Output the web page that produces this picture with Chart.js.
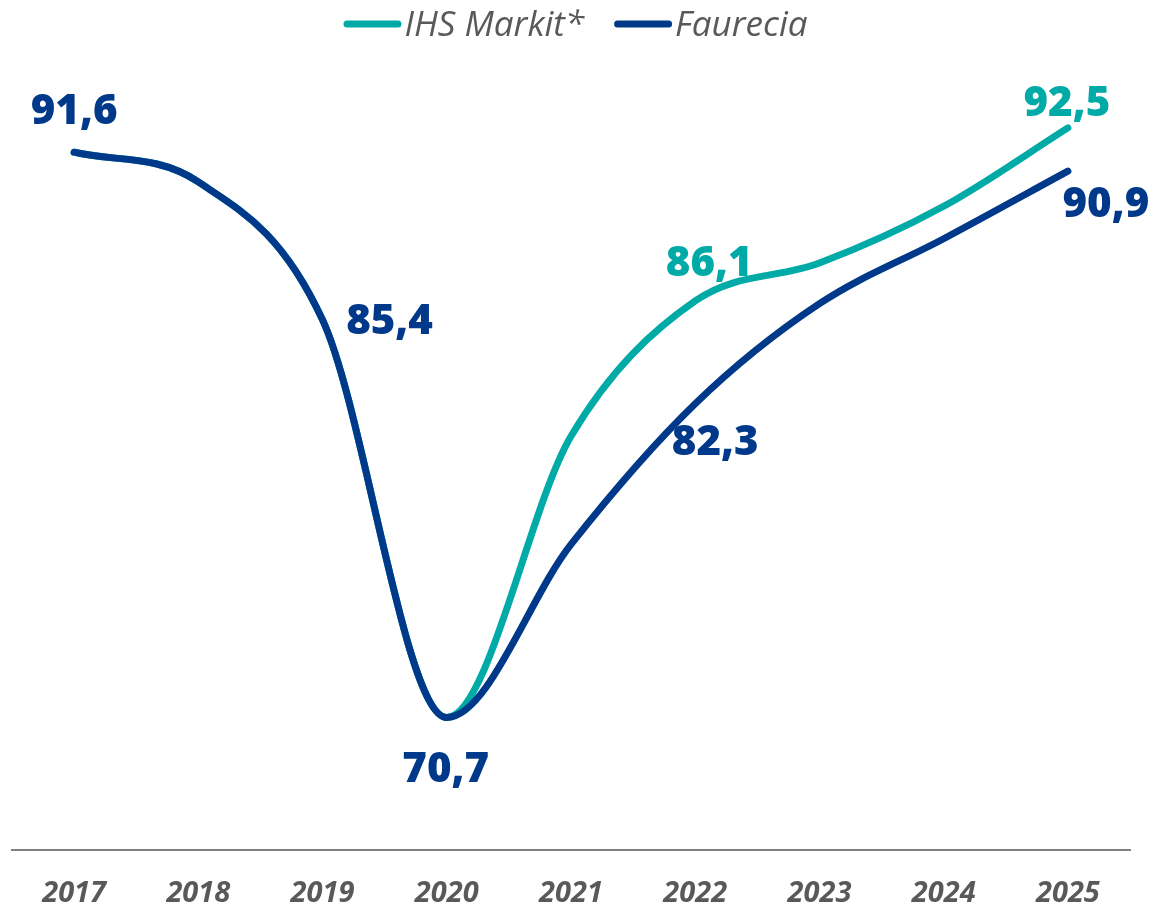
<!DOCTYPE html>
<html>
<head>
<meta charset="utf-8">
<script src="https://cdn.jsdelivr.net/npm/chart.js@4.4.1/dist/chart.umd.min.js"></script>
<style>
  html, body { margin: 0; padding: 0; background: #fff; }
  #chart-container { width: 1171px; height: 906px; position: relative; }
</style>
</head>
<body>
<div id="chart-container"><canvas id="myChart"></canvas></div>
<script>
const years = ['2017', '2018', '2019', '2020', '2021', '2022', '2023', '2024', '2025'];
const ihsMarkit = [91.6, 90.5, 85.4, 70.7, 81.1, 86.1, 87.5, 89.6, 92.5];
const faurecia = [91.6, 90.5, 85.4, 70.7, 77.1, 82.3, 86.0, 88.4, 90.9];
const seriesNames = ['IHS Markit*', 'Faurecia'];

const TEAL = '#00aaa6';
const NAVY = '#00388a';
const GREY = '#595959';

// value labels: point index -> [dx, dy] of the label baseline centre from the point
const labelOffsets = [
  { 5: [14, -25], 8: [-1, -12] },
  { 0: [0, -28], 2: [67, 14], 3: [-1, 65], 5: [20, 51], 8: [38, 46] }
];

const valueLabels = {
  id: 'valueLabels',
  afterDatasetsDraw(chart) {
    const ctx = chart.ctx;
    ctx.save();
    ctx.font = '800 42px "Open Sans"';
    ctx.textAlign = 'center';
    ctx.textBaseline = 'alphabetic';
    chart.data.datasets.forEach((ds, di) => {
      const meta = chart.getDatasetMeta(di);
      const offs = labelOffsets[di];
      Object.keys(offs).forEach(i => {
        const pt = meta.data[i];
        const [dx, dy] = offs[i];
        ctx.fillStyle = ds.borderColor;
        ctx.fillText(ds.data[i].toFixed(1).replace('.', ','), pt.x + dx, pt.y + dy);
      });
    });
    ctx.restore();
  }
};

// legend drawn as short thick lines followed by italic names
const lineLegend = {
  id: 'lineLegend',
  afterDraw(chart) {
    const ctx = chart.ctx;
    ctx.save();
    ctx.font = 'italic 35px "Open Sans"';
    const items = chart.data.datasets.map(ds => ({ ds, w: ctx.measureText(ds.label).width }));
    const lineW = 58, gap = 3, itemGap = 30;
    const total = items.reduce((s, it) => s + lineW + gap + it.w, 0) + itemGap * (items.length - 1);
    let x = chart.width / 2 - 10 - total / 2;
    items.forEach(it => {
      ctx.strokeStyle = it.ds.borderColor;
      ctx.lineWidth = 7;
      ctx.lineCap = 'round';
      ctx.beginPath();
      ctx.moveTo(x + 3.5, 24);
      ctx.lineTo(x + lineW - 3.5, 24);
      ctx.stroke();
      ctx.fillStyle = GREY;
      ctx.textBaseline = 'alphabetic';
      ctx.fillText(it.ds.label, x + lineW + gap, 36);
      x += lineW + gap + it.w + itemGap;
    });
    ctx.restore();
  }
};

const data = {
  labels: years,
  datasets: [{
    label: seriesNames[0],
    data: ihsMarkit,
    borderColor: TEAL,
    backgroundColor: TEAL,
    order: 1
  }, {
    label: seriesNames[1],
    data: faurecia,
    borderColor: NAVY,
    backgroundColor: NAVY,
    order: 0
  }]
};

const config = {
  type: 'line',
  data: data,
  options: {
    responsive: true,
    maintainAspectRatio: false,
    animation: false,
    layout: { padding: { top: 57, left: 12, right: 41, bottom: 0 } },
    elements: {
      line: {
        borderWidth: 7,
        borderCapStyle: 'round',
        borderJoinStyle: 'round',
        cubicInterpolationMode: 'monotone'
      },
      point: { radius: 0, hoverRadius: 0 }
    },
    plugins: {
      legend: { display: false },
      tooltip: { enabled: false }
    },
    scales: {
      x: {
        offset: true,
        grid: { display: false },
        border: { display: true, color: '#808080', width: 2 },
        ticks: {
          color: GREY,
          padding: 18,
          font: { family: '"Open Sans"', size: 29, style: 'italic', weight: 'bold' }
        },
        afterFit(scale) { scale.height = 56; }
      },
      y: {
        display: false,
        min: 65.8,
        max: 95.12
      }
    }
  },
  plugins: [valueLabels, lineLegend]
};

const myChart = new Chart(document.getElementById('myChart'), config);
</script>
</body>
</html>
